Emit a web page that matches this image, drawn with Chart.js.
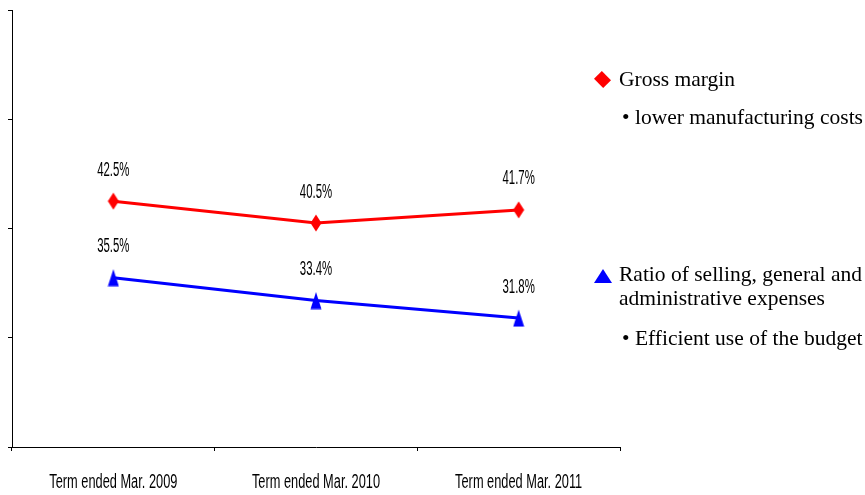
<!DOCTYPE html>
<html>
<head>
<meta charset="utf-8">
<script src="https://cdn.jsdelivr.net/npm/chart.js@4"></script>
<style>
  html, body { margin: 0; padding: 0; background: #fff; }
  #wrap { position: relative; width: 865px; height: 495px; }
  #chart { position: absolute; left: 0; top: 0; }
  .note { position: absolute; font-family: "Liberation Serif", "Times New Roman", serif; font-size: 21.5px; color: #000; line-height: 24px; white-space: nowrap; }
  .diamond { position: absolute; width: 13px; height: 13px; background: #ff0000; transform: rotate(45deg) scaleY(0.85); }
  .tri { position: absolute; width: 0; height: 0; border-left: 9.5px solid transparent; border-right: 9.5px solid transparent; border-bottom: 14px solid #0000ff; }
</style>
</head>
<body>
<div id="wrap">
  <canvas id="chart" width="865" height="495"></canvas>
  <div class="diamond" style="left:596px; top:73px;"></div>
  <div class="note" style="left:619px; top:67px;">Gross margin</div>
  <div class="note" style="left:622px; top:105px;">• lower manufacturing costs</div>
  <div class="tri" style="left:594px; top:269px;"></div>
  <div class="note" style="left:619px; top:262px;">Ratio of selling, general and<br>administrative expenses</div>
  <div class="note" style="left:622px; top:326px;">• Efficient use of the budget</div>
</div>
<script>
const categories = ['Term ended Mar. 2009', 'Term ended Mar. 2010', 'Term ended Mar. 2011'];
const grossMargin = [42.5, 40.5, 41.7];
const sgaRatio = [35.5, 33.4, 31.8];
const yTicks = [20, 30, 40, 50, 60];

const labelFont = '"Liberation Sans", Arial, sans-serif';

// narrow marker shapes, the built-in ones are always square
function makeMarker(kind, color) {
    const c = document.createElement('canvas');
    c.width = 12;
    c.height = 18;
    const g = c.getContext('2d');
    g.fillStyle = color;
    g.beginPath();
    if (kind === 'diamond') {
        g.moveTo(6, 0.5);
        g.lineTo(11.5, 9);
        g.lineTo(6, 17.5);
        g.lineTo(0.5, 9);
    } else {
        g.moveTo(6, 0.5);
        g.lineTo(11.5, 17.5);
        g.lineTo(0.5, 17.5);
    }
    g.closePath();
    g.fill();
    return c;
}

// squeezed text, the labels in the picture use a very condensed face
function drawNarrow(ctx, text, x, y, size, squeeze) {
    ctx.save();
    ctx.translate(x, y);
    ctx.scale(squeeze, 1);
    ctx.font = size + 'px ' + labelFont;
    ctx.fillText(text, 0, 0);
    ctx.restore();
}

const textLabels = {
    id: 'textLabels',
    afterDraw(chart) {
        const ctx = chart.ctx;
        ctx.save();
        ctx.fillStyle = '#000';
        ctx.textAlign = 'center';
        ctx.textBaseline = 'middle';
        chart.data.datasets.forEach((ds, i) => {
            chart.getDatasetMeta(i).data.forEach((pt, j) => {
                drawNarrow(ctx, ds.data[j].toFixed(1) + '%', pt.x, pt.y - 31, 20, 0.57);
            });
        });
        const xs = chart.scales.x;
        categories.forEach((c, i) => {
            drawNarrow(ctx, c, xs.getPixelForValue(i), 482, 20, 0.64);
        });
        ctx.restore();
    }
};

new Chart(document.getElementById('chart'), {
    type: 'line',
    data: {
        labels: categories,
        datasets: [{
            label: 'Gross margin',
            data: grossMargin,
            borderColor: '#ff0000',
            backgroundColor: '#ff0000',
            borderWidth: 3,
            pointStyle: makeMarker('diamond', '#ff0000'),
            pointRadius: 7,
            tension: 0
        }, {
            label: 'Ratio of selling, general and administrative expenses',
            data: sgaRatio,
            borderColor: '#0000ff',
            backgroundColor: '#0000ff',
            borderWidth: 3,
            pointStyle: makeMarker('triangle', '#0000ff'),
            pointRadius: 7,
            tension: 0
        }]
    },
    options: {
        responsive: false,
        animation: false,
        events: [],
        layout: { padding: { left: 8, right: 245, top: 8, bottom: 44 } },
        plugins: {
            legend: { display: false },
            tooltip: { enabled: false }
        },
        scales: {
            x: {
                offset: true,
                grid: {
                    offset: true,
                    drawOnChartArea: false,
                    drawTicks: true,
                    tickLength: 4,
                    color: '#000'
                },
                border: { display: true, color: '#000', width: 1 },
                ticks: { display: false }
            },
            y: {
                min: yTicks[0],
                max: yTicks[yTicks.length - 1],
                afterBuildTicks: (axis) => { axis.ticks = yTicks.map(v => ({ value: v })); },
                grid: {
                    drawOnChartArea: false,
                    drawTicks: true,
                    tickLength: 4,
                    color: '#000'
                },
                border: { display: true, color: '#000', width: 1 },
                ticks: { display: false }
            }
        }
    },
    plugins: [textLabels]
});
</script>
</body>
</html>
